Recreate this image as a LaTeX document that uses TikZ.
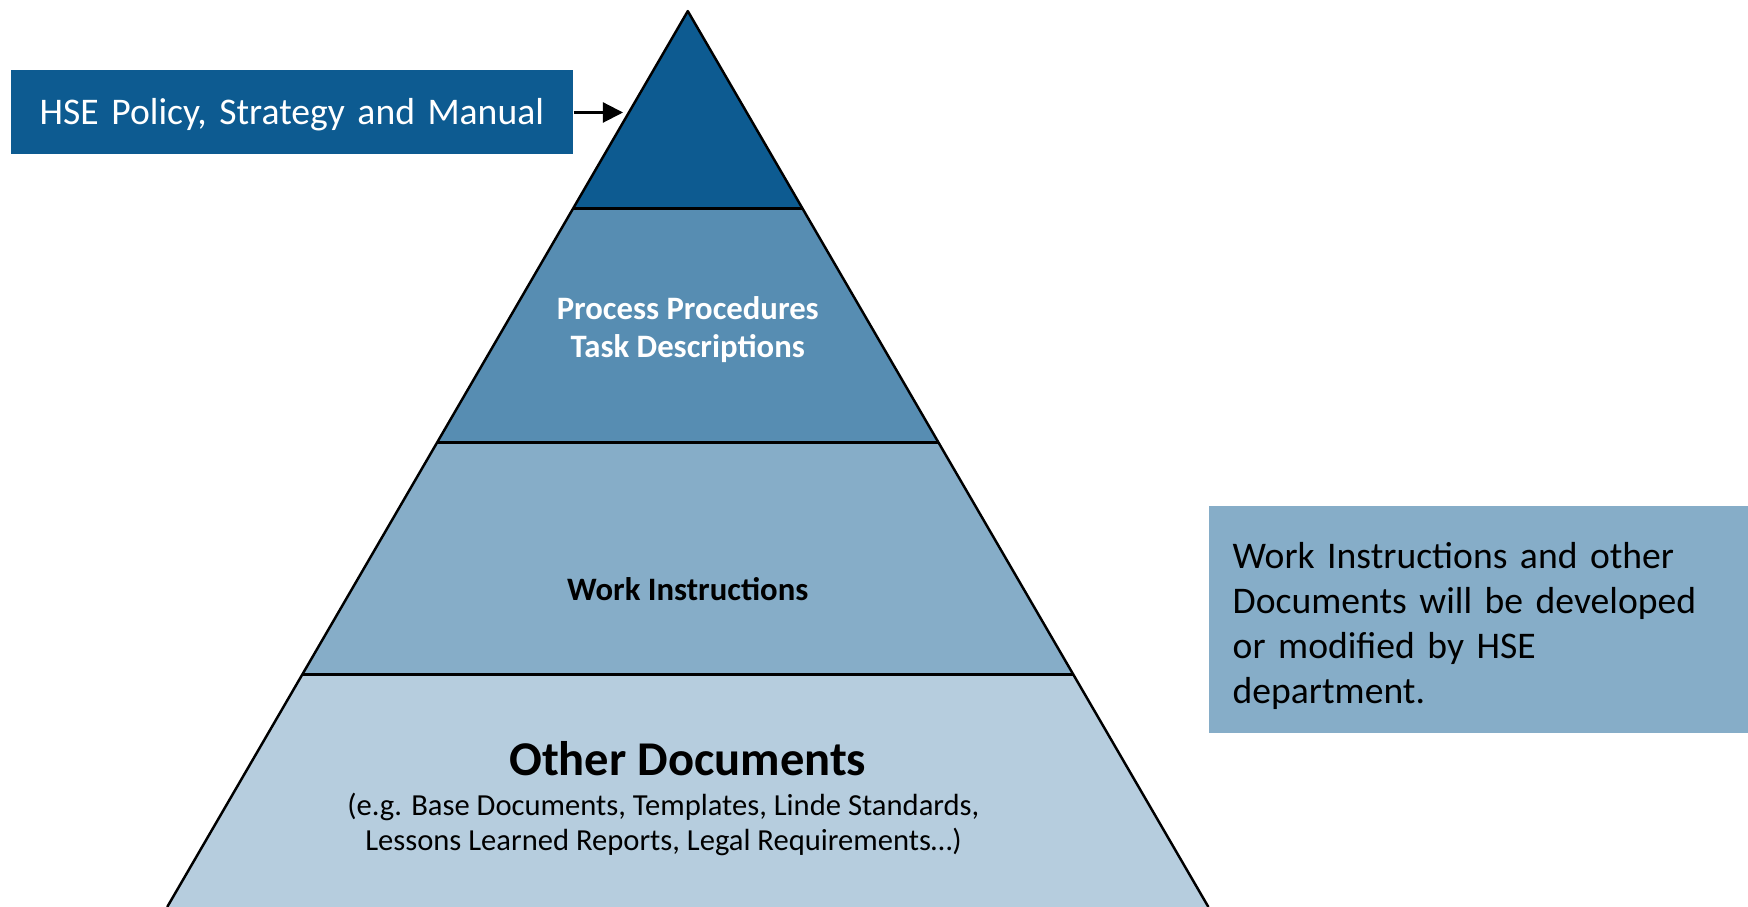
\documentclass[tikz,border=0pt]{standalone}
\usepackage{fontspec}
\setmainfont{Carlito}
\usetikzlibrary{arrows.meta,calc}
\definecolor{tierdark}{HTML}{0D5B91}
\definecolor{tiermid}{HTML}{578DB2}
\definecolor{tierlight}{HTML}{86ADC8}
\definecolor{tierpale}{HTML}{B6CDDE}
\begin{document}
\begin{tikzpicture}[x=0.01cm, y=-0.01cm, every node/.style={font=\fontsize{10.7pt}{12.8pt}\selectfont}]
    % Styles
    \tikzstyle{tier} = [draw=black, line width=0.7pt, line join=round]
    \tikzstyle{tierlabel} = [align=center, font=\bfseries\fontsize{9.3pt}{10.8pt}\selectfont]
    \tikzstyle{infobox} = [anchor=north west, inner xsep=0.29cm, align=left]
    \tikzstyle{arrow} = [line width=0.6pt, -{Triangle[length=0.2cm, width=0.2cm]}]

    \useasboundingbox (0,0) rectangle (1748,907);

    % Pyramid
    \coordinate (apex) at (687.8,11.1);
    \coordinate (bl) at (167.2,907);
    \coordinate (br) at (1208.4,907);
    \foreach \t/\n in {0.2203/1, 0.4816/2, 0.7405/3} {
        \coordinate (l\n) at ($(apex)!\t!(bl)$);
        \coordinate (r\n) at ($(apex)!\t!(br)$);
    }
    \fill [tierdark]  (apex) -- (r1) -- (l1) -- cycle;
    \fill [tiermid]   (l1) -- (r1) -- (r2) -- (l2) -- cycle;
    \fill [tierlight] (l2) -- (r2) -- (r3) -- (l3) -- cycle;
    \fill [tierpale]  (l3) -- (r3) -- (br) -- (bl) -- cycle;
    \draw [tier] (bl) -- (apex) -- (br);
    \draw [tier] (l1) -- (r1) (l2) -- (r2) (l3) -- (r3);

    % Nodes
    \node (procedures)   [tierlabel, text=white] at (687.8,330) {Process Procedures\\Task Descriptions};
    \node (instructions) [tierlabel] at (687.8,589.5) {Work Instructions};
    \node (other)        [tierlabel, font=\bfseries\fontsize{13.8pt}{16pt}\selectfont] at (687.8,759) {Other Documents};
    \node (examples)     [align=center, font=\fontsize{8.7pt}{9.8pt}\selectfont] at (663.4,824.5)
        {(e.g. Base Documents, Templates, Linde Standards,\\Lessons Learned Reports, Legal Requirements…)};
    \node (hse)  [infobox, fill=tierdark, text=white, minimum height=0.84cm, text width=5.04cm, text depth=0pt] at (10,69)
        {HSE Policy, Strategy and Manual};
    \node (note) [infobox, fill=tierlight, inner xsep=0.236cm, minimum height=2.274cm, text width=4.924cm] at (1208.4,505)
        {\rule{0pt}{11pt}Work Instructions and other\\Documents will be developed\\or modified by HSE\\department.};

    % Arrows
    \coordinate (hsetip) at (623,112.5);
    \draw [arrow] (hse.east |- hsetip) -- (hsetip);
\end{tikzpicture}
\end{document}
